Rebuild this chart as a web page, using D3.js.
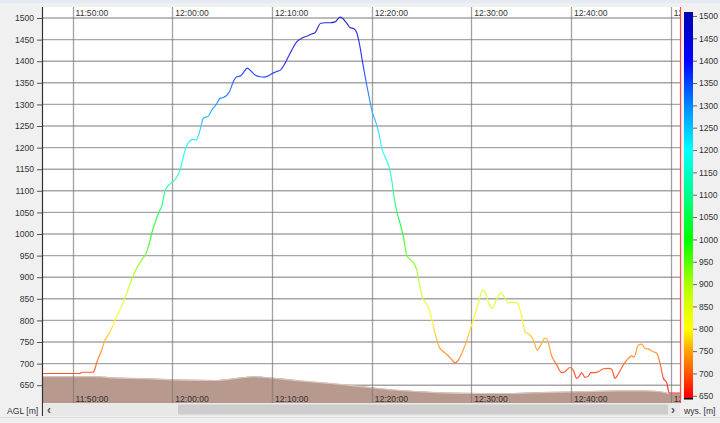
<!DOCTYPE html>
<html><head><meta charset="utf-8">
<script src="https://cdn.jsdelivr.net/npm/d3@7/dist/d3.min.js"></script>
<style>
html,body{margin:0;padding:0;background:#f0f0f0;}
svg{display:block;font-family:"Liberation Sans",Arial,sans-serif;}
</style></head>
<body>
<svg id="chart" width="720" height="423"></svg>
<script>
// ---- data ----
const baseTime = "2000-01-01T11:50:00"; // minutes below are counted from 11:50:00
const flightMin = [-3.06,0.75,0.95,1.96,2.11,2.46,2.93,3.26,3.56,3.93,4.26,4.76,5.16,5.60,6.04,6.50,6.94,7.37,7.70,7.94,8.27,8.61,8.95,9.28,9.45,9.78,10.38,10.78,11.28,11.79,12.12,12.39,12.79,13.12,13.62,13.96,14.39,14.79,15.13,15.73,16.13,16.47,16.87,17.20,17.53,17.87,18.30,18.81,19.14,19.64,20.14,20.48,20.88,21.31,21.81,22.49,22.99,23.49,23.99,24.32,24.89,25.33,25.83,26.33,26.83,27.10,27.50,27.83,28.23,28.51,28.77,29.11,29.44,29.84,30.01,30.34,30.77,31.01,31.34,31.78,32.02,32.25,32.52,32.85,33.18,33.52,33.85,34.25,34.52,34.78,35.13,35.46,35.79,36.13,36.46,36.79,37.19,37.59,37.93,38.37,38.70,39.04,39.47,39.87,40.20,40.70,41.14,41.37,41.81,42.15,42.55,42.98,43.38,43.71,44.21,44.61,45.06,45.39,45.89,46.22,46.62,46.96,47.39,47.62,48.06,48.57,49.07,49.40,49.90,50.23,50.57,50.83,51.07,51.40,51.73,51.98,52.41,52.74,53.24,53.74,54.08,54.41,54.74,55.25,55.75,56.09,56.32,56.75,57.09,57.42,57.75,58.19,58.60,58.93,59.26,59.60,59.86,60.93];
const flightAlt = [677,677,680,680,681,705,732,755,766,782,801,824,847,874,901,924,940,955,978,1002,1025,1048,1065,1100,1108,1116,1129,1148,1194,1216,1219,1217,1241,1268,1273,1287,1299,1314,1316,1329,1353,1364,1366,1376,1384,1378,1368,1364,1363,1366,1373,1376,1380,1395,1418,1445,1453,1458,1463,1466,1488,1489,1489,1491,1502,1499,1488,1478,1475,1466,1441,1395,1353,1306,1287,1264,1229,1198,1179,1152,1125,1086,1052,1025,994,951,941,932,917,886,851,840,824,793,762,738,728,720,712,702,708,724,748,778,801,840,870,866,836,828,851,864,851,841,842,840,809,774,766,755,731,743,759,755,718,697,679,681,691,685,666,671,679,668,671,679,679,681,688,689,687,666,676,697,712,718,715,743,745,735,734,728,724,701,666,656,632,632];
const terrainMin = [-3.06,2.26,4.26,7.77,10.78,14.29,15.80,17.30,18.30,19.31,20.81,22.82,24.82,26.83,28.84,30.84,32.15,34.85,37.56,40.87,44.18,46.89,50.90,54.91,57.42,58.93,59.93,60.93];
const terrainAlt = [671,671,668,666,663,662,665,669,671,669,666,661,657,653,648,643,640,636,633,632,632,634,636,638,638,636,632,632];
const yTickValues = [650,700,750,800,850,900,950,1000,1050,1100,1150,1200,1250,1300,1350,1400,1450,1500];
const timeTickLabels = ["11:50:00","12:00:00","12:10:00","12:20:00","12:30:00","12:40:00","12:50:00"];
const colorStops = [650,700,750,800,850,900,1000,1100,1200,1300,1400,1500];
const colorValues = ["#ff0000","#ff5400","#ffa200","#ffff00","#ddff00","#aaff00","#00ff00","#00ff88","#00ffff","#0088ff","#0000ff","#0000b4"];
const leftLabel = "AGL [m]";
const rightLabel = "wys. [m]";

// ---- layout ----
const svg = d3.select("#chart");
const P = {l:42, r:680, t:7, b:403};
const base = new Date(baseTime);
const toDate = m => new Date(base.getTime() + m*60000);
const parseClock = s => { const [h,m,sec] = s.split(":").map(Number); return new Date(2000,0,1,h,m,sec); };

const x = d3.scaleTime().domain([parseClock("11:46:56"), parseClock("12:50:56")]).range([P.l, P.r]);
const y = d3.scaleLinear().domain([608.8, 1525.5]).range([P.b, P.t]);
const lighten = c => d3.interpolateRgb(c, "#ffffff")(0.18);

// backgrounds
svg.append("rect").attr("x",0).attr("y",0).attr("width",720).attr("height",423).attr("fill","#f0f0f0");
svg.append("rect").attr("x",0).attr("y",0).attr("width",720).attr("height",3).attr("fill","#e4eaf3");
svg.append("rect").attr("x",P.l).attr("y",P.t).attr("width",P.r-P.l).attr("height",P.b-P.t).attr("fill","#ffffff");

const defs = svg.append("defs");
defs.append("clipPath").attr("id","plotclip").append("rect")
  .attr("x",P.l).attr("y",P.t).attr("width",P.r-P.l).attr("height",P.b-P.t);

// gradient for the flight line: colour depends on altitude (vertical position)
const lg = defs.append("linearGradient").attr("id","linegrad")
  .attr("gradientUnits","userSpaceOnUse").attr("x1",0).attr("x2",0)
  .attr("y1",y(colorStops[0])).attr("y2",y(colorStops[colorStops.length-1]));
colorStops.forEach((s,i)=>{
  lg.append("stop").attr("offset",(s-colorStops[0])/(colorStops[colorStops.length-1]-colorStops[0]))
    .attr("stop-color",lighten(colorValues[i]));
});

const plot = svg.append("g").attr("clip-path","url(#plotclip)");

// horizontal grid
plot.append("g").selectAll("line").data(yTickValues).join("line")
  .attr("x1",P.l).attr("x2",P.r).attr("y1",d=>y(d)).attr("y2",d=>y(d))
  .attr("stroke","#a6a6a6").attr("stroke-width",1.4);

// terrain
const tData = terrainMin.map((m,i)=>({t:toDate(m), v:terrainAlt[i]}));
plot.append("path").datum(tData)
  .attr("d", d3.area().x(d=>x(d.t)).y0(P.b).y1(d=>y(d.v)).curve(d3.curveMonotoneX))
  .attr("fill","#b8998e");
plot.append("path").datum(tData)
  .attr("d", d3.line().x(d=>x(d.t)).y(d=>y(d.v)+0.5).curve(d3.curveMonotoneX))
  .attr("fill","none").attr("stroke","#d6c4bc").attr("stroke-width",1.2);

// vertical grid
const timeTicks = timeTickLabels.map(parseClock);
plot.append("g").selectAll("line").data(timeTicks).join("line")
  .attr("x1",d=>Math.round(x(d))+0.5).attr("x2",d=>Math.round(x(d))+0.5).attr("y1",P.t).attr("y2",P.b)
  .attr("stroke","#7a7a7a").attr("stroke-opacity",0.7).attr("stroke-width",1.3);

// time labels (top & bottom)
plot.append("g").selectAll("text").data(timeTicks).join("text")
  .attr("x",d=>x(d)+3).attr("y",15.5).text((d,i)=>timeTickLabels[i])
  .attr("font-size",8.6).attr("fill","#333");
plot.append("g").selectAll("text").data(timeTicks).join("text")
  .attr("x",d=>x(d)+3).attr("y",401.5).text((d,i)=>timeTickLabels[i])
  .attr("font-size",8.6).attr("fill","#333");

// flight line coloured by altitude
const fData = flightMin.map((m,i)=>({t:toDate(m), v:flightAlt[i]}));
plot.append("path").datum(fData)
  .attr("d", d3.line().x(d=>x(d.t)).y(d=>y(d.v)).curve(d3.curveMonotoneX))
  .attr("fill","none").attr("stroke","url(#linegrad)")
  .attr("stroke-width",1.15).attr("stroke-linejoin","round");

// right red border
svg.append("line").attr("x1",P.r+0.5).attr("x2",P.r+0.5).attr("y1",P.t).attr("y2",P.b)
  .attr("stroke","#ff4a4a").attr("stroke-width",1.2);

// left axis
const yAxis = d3.axisLeft(y).tickValues(yTickValues).tickFormat(d3.format("d")).tickSize(5).tickPadding(3);
const ga = svg.append("g").attr("transform",`translate(${P.l},0)`).call(yAxis);
ga.select(".domain").remove();
ga.selectAll(".tick line").attr("stroke","#555");
ga.selectAll(".tick text").attr("font-size",8.6).attr("fill","#333").attr("font-family","Liberation Sans, Arial, sans-serif");
svg.append("line").attr("x1",P.l+0.5).attr("x2",P.l+0.5).attr("y1",P.t).attr("y2",416)
  .attr("stroke","#333").attr("stroke-width",1.2);

// scrollbar
svg.append("rect").attr("x",P.l+1).attr("y",403).attr("width",P.r-P.l-1).attr("height",13).attr("fill","#e8e8e8");
svg.append("rect").attr("x",178).attr("y",404.5).attr("width",490).attr("height",10).attr("fill","#cdcdcd");
svg.append("text").attr("x",47).attr("y",413.5).text("‹").attr("font-size",12).attr("font-weight","bold").attr("fill","#555");
svg.append("text").attr("x",671).attr("y",413.5).text("›").attr("font-size",12).attr("font-weight","bold").attr("fill","#555");
svg.append("text").attr("x",7).attr("y",414).text(leftLabel).attr("font-size",8.6).attr("fill","#333");
svg.append("text").attr("x",684).attr("y",414).text(rightLabel).attr("font-size",8.6).attr("fill","#333");
svg.append("line").attr("x1",0).attr("x2",720).attr("y1",417.5).attr("y2",417.5).attr("stroke","#dcdcdc");

// colour bar
const cb = {x0:684, x1:693, t:12, b:398};
const cy = d3.scaleLinear().domain([650,1500]).range([395.8,16]);
const grad = defs.append("linearGradient").attr("id","cbgrad")
  .attr("gradientUnits","userSpaceOnUse").attr("x1",0).attr("x2",0).attr("y1",cb.b).attr("y2",cb.t);
const vTop = cy.invert(cb.t), vBot = cy.invert(cb.b);
colorStops.forEach((s,i)=>{
  grad.append("stop").attr("offset",((s - vBot)/(vTop - vBot))).attr("stop-color",colorValues[i]);
});
svg.append("rect").attr("x",cb.x0).attr("y",cb.t).attr("width",cb.x1-cb.x0).attr("height",cb.b-cb.t).attr("fill","url(#cbgrad)");
svg.append("rect").attr("x",cb.x0).attr("y",cb.b).attr("width",cb.x1-cb.x0).attr("height",1.5).attr("fill","#000");
const cAxis = d3.axisRight(cy).tickValues(yTickValues).tickFormat(d3.format("d")).tickSize(4).tickPadding(2);
const gc = svg.append("g").attr("transform",`translate(${cb.x1},0)`).call(cAxis);
gc.select(".domain").remove();
gc.selectAll(".tick line").attr("stroke","#666");
gc.selectAll(".tick text").attr("font-size",8.6).attr("fill","#333").attr("font-family","Liberation Sans, Arial, sans-serif");
</script>
</body></html>
